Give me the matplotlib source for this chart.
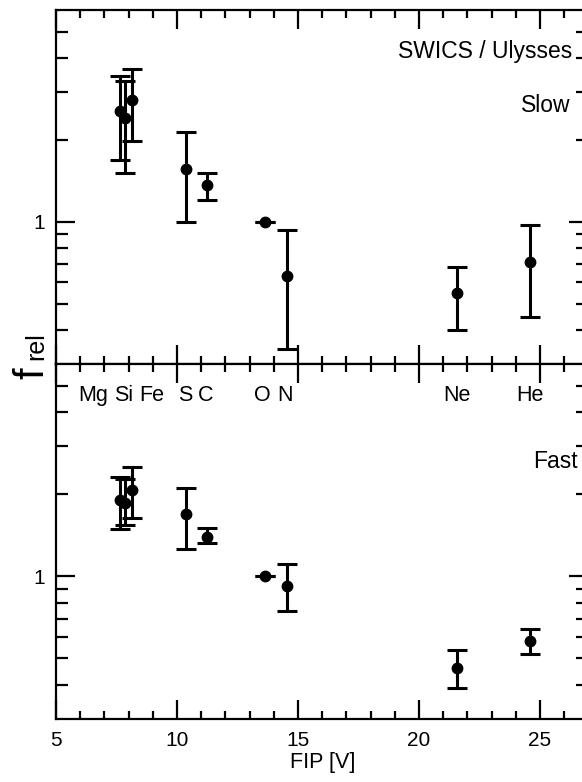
import numpy as np
import matplotlib
matplotlib.use("Agg")
import matplotlib.pyplot as plt
from matplotlib.ticker import FixedLocator, NullFormatter, FixedFormatter, MultipleLocator

plt.rcParams['font.family'] = ['Liberation Sans', 'DejaVu Sans']

# element, first ionisation potential [V]
elements = ["Mg", "Si", "Fe", "S", "C", "O", "N", "Ne", "He"]
fip = [7.65, 8.15, 7.87, 10.36, 11.26, 13.62, 14.53, 21.56, 24.59]

# slow wind: value, lower end, upper end of error bar
slow_val = [2.55, 2.80, 2.40, 1.56, 1.37, 1.00, 0.63, 0.545, 0.71]
slow_lo = [1.69, 1.98, 1.51, 1.00, 1.20, 1.00, 0.34, 0.40, 0.445]
slow_hi = [3.43, 3.63, 3.28, 2.14, 1.51, 1.00, 0.93, 0.68, 0.975]

# fast wind
fast_val = [1.91, 2.07, 1.85, 1.69, 1.39, 1.00, 0.92, 0.46, 0.58]
fast_lo = [1.49, 1.63, 1.54, 1.26, 1.33, 1.00, 0.745, 0.39, 0.52]
fast_hi = [2.32, 2.51, 2.27, 2.10, 1.50, 1.00, 1.11, 0.535, 0.64]

# label x positions (FIP axis) for the element names
label_x = [6.53, 7.81, 8.95, 10.33, 11.18, 13.53, 14.48, 21.55, 24.59]

fig = plt.figure(figsize=(5.82, 7.82), dpi=100)
left, width = 0.0962, 0.9148
ax1 = fig.add_axes([left, 0.5345, width, 0.4527])
ax2 = fig.add_axes([left, 0.0806, width, 0.4539], sharex=ax1)

for ax, val, lo, hi in [(ax1, slow_val, slow_lo, slow_hi),
                        (ax2, fast_val, fast_lo, fast_hi)]:
    val = np.array(val)
    yerr = np.vstack([val - np.array(lo), np.array(hi) - val])
    ax.errorbar(fip, val, yerr=yerr, fmt='o', color='black', ms=7.5,
                elinewidth=2.2, capsize=7.5, capthick=2.2)
    ax.set_yscale('log')
    ax.set_ylim(0.3, 6)
    ax.set_xlim(5, 27)
    ax.yaxis.set_major_locator(FixedLocator([1]))
    ax.yaxis.set_major_formatter(FixedFormatter(["1"]))
    ax.yaxis.set_minor_locator(FixedLocator([0.4, 0.5, 0.6, 0.7, 0.8, 0.9, 2, 3, 4, 5]))
    ax.yaxis.set_minor_formatter(NullFormatter())
    ax.xaxis.set_major_locator(MultipleLocator(5))
    ax.xaxis.set_minor_locator(MultipleLocator(1))
    ax.tick_params(axis='both', which='both', direction='in', top=True, right=True,
                   width=1.6, labelsize=15)
    ax.tick_params(axis='x', which='major', length=14, pad=9)
    ax.tick_params(axis='x', which='minor', length=5.5)
    ax.tick_params(axis='y', which='major', length=14, pad=8)
    ax.tick_params(axis='y', which='minor', length=8.5)
    for s in ax.spines.values():
        s.set_linewidth(1.6)

ax1.tick_params(axis='x', labelbottom=False)

ax1.text(0.969, 0.864, "SWICS / Ulysses", transform=ax1.transAxes,
         ha='right', va='baseline', fontsize=16.5)
ax1.text(0.967, 0.712, "Slow", transform=ax1.transAxes,
         ha='right', va='baseline', fontsize=16.5)
ax2.text(0.980, 0.707, "Fast", transform=ax2.transAxes,
         ha='right', va='baseline', fontsize=16.5)

for name, x in zip(elements, label_x):
    ax2.text(x, 0.896, name, transform=ax2.get_xaxis_transform(),
             ha='center', va='baseline', fontsize=15.5)

ax2.set_xlabel("FIP [V]", fontsize=15.5, labelpad=1)

# y label: large "f" with smaller "rel" on the same baseline
fig.text(43 / 582, 1 - 373 / 782, "f", rotation=90, fontsize=30,
         ha='center', va='baseline', rotation_mode='anchor')
fig.text(43 / 582, 1 - 346 / 782, "rel", rotation=90, fontsize=18,
         ha='center', va='baseline', rotation_mode='anchor')

fig.savefig("out.png", dpi=100)
